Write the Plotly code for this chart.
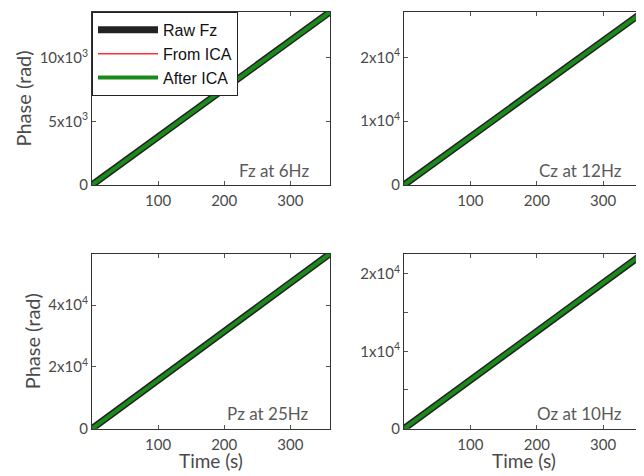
import plotly.graph_objects as go

# ---- data ----
time_s = [0, 120, 240, 360]
fz_raw = [0, 4530, 9060, 13600]
cz_raw = [0, 9030, 18070, 27100]
pz_raw = [0, 18870, 37730, 56600]
oz_raw = [0, 7530, 15070, 22600]

panels = [
    dict(name="Fz", label="Fz at 6Hz", vals=fz_raw, ymax=13600,
         tickvals=[0, 5000, 10000], ticktext=["0", "5x10<sup>3</sup>", "10x10<sup>3</sup>"]),
    dict(name="Cz", label="Cz at 12Hz", vals=cz_raw, ymax=27100,
         tickvals=[0, 10000, 20000], ticktext=["0", "1x10<sup>4</sup>", "2x10<sup>4</sup>"]),
    dict(name="Pz", label="Pz at 25Hz", vals=pz_raw, ymax=56600,
         tickvals=[0, 20000, 40000], ticktext=["0", "2x10<sup>4</sup>", "4x10<sup>4</sup>"]),
    dict(name="Oz", label="Oz at 10Hz", vals=oz_raw, ymax=22600,
         tickvals=[0, 5000, 10000, 15000, 20000], ticktext=["0", "", "1x10<sup>4</sup>", "", "2x10<sup>4</sup>"]),
]
x_ticks = [100, 200, 300]
x_max = 360

# page body has an 8px margin; figure is sized to fill the rest of the window
OFF = 8
W, H = 644 - OFF, 476 - OFF


def px_x(x):
    return (x - OFF) / W


def px_y(y):
    return 1 - (y - OFF) / H


xdoms = [[px_x(92), px_x(330)], [px_x(404), px_x(643)]]
ydoms = [[px_y(188), px_y(12)], [px_y(436), px_y(258)]]

FONT = "Lato, 'Open Sans', sans-serif"
GRAY = "#4a4a4a"

fig = go.Figure()
layout = dict(
    width=W, height=H,
    margin=dict(l=0, r=0, t=0, b=0),
    paper_bgcolor="white", plot_bgcolor="white",
    showlegend=True,
    font=dict(family=FONT, size=15, color=GRAY),
    legend=dict(
        x=px_x(92), y=px_y(12), xanchor="left", yanchor="top",
        bgcolor="white", bordercolor="#222222", borderwidth=1,
        font=dict(family="Liberation Sans, Arial, sans-serif", size=16, color="#111111"),
        itemwidth=60, tracegroupgap=0,
    ),
    annotations=[],
)

for i, p in enumerate(panels):
    r, c = divmod(i, 2)
    idx = "" if i == 0 else str(i + 1)
    xa, ya = "x" + idx, "y" + idx
    first = i == 0
    fig.add_trace(go.Scatter(x=time_s, y=p["vals"], mode="lines", xaxis=xa, yaxis=ya,
                             name="Raw Fz", line=dict(color="#222222", width=7),
                             showlegend=first, hoverinfo="skip"))
    fig.add_trace(go.Scatter(x=time_s, y=p["vals"], mode="lines", xaxis=xa, yaxis=ya,
                             name="From ICA", line=dict(color="#ff3030", width=1.5),
                             showlegend=first, hoverinfo="skip"))
    fig.add_trace(go.Scatter(x=time_s, y=p["vals"], mode="lines", xaxis=xa, yaxis=ya,
                             name="After ICA", line=dict(color="#1a8a1a", width=4),
                             showlegend=first, hoverinfo="skip"))
    xkey = "xaxis" + idx
    ykey = "yaxis" + idx
    layout[xkey] = dict(
        domain=xdoms[c], anchor=ya, range=[0, x_max],
        tickvals=x_ticks, ticks="inside", ticklen=4, tickcolor="#555555",
        ticklabelstandoff=2,
        showline=True, linecolor="#333333", linewidth=1, mirror="ticks",
        showgrid=False, zeroline=False,
        tickfont=dict(family=FONT, size=15, color=GRAY),
    )
    layout[ykey] = dict(
        domain=ydoms[r], anchor=xa, range=[0, p["ymax"]],
        tickvals=p["tickvals"], ticktext=p["ticktext"],
        ticks="inside", ticklen=4, tickcolor="#555555",
        showline=True, linecolor="#333333", linewidth=1, mirror="ticks",
        showgrid=False, zeroline=False,
        tickfont=dict(family=FONT, size=15, color=GRAY),
        title=dict(text="Phase (rad)" if c == 0 else "", standoff=2,
                   font=dict(family=FONT, size=20, color=GRAY)),
    )
    if r == 1:
        layout["annotations"].append(dict(
            text="Time (s)", xref=xa + " domain", yref="paper",
            x=0.5, y=px_y(468), xanchor="center", yanchor="middle", showarrow=False,
            font=dict(family=FONT, size=19, color=GRAY),
        ))
    layout["annotations"].append(dict(
        text=p["label"], xref=xa + " domain", yref=ya + " domain",
        x=0.92, y=0.085, xanchor="right", yanchor="middle", showarrow=False,
        font=dict(family=FONT, size=17, color="#5a5a5a"),
    ))

fig.update_layout(**layout)
fig.write_html("out.html")
